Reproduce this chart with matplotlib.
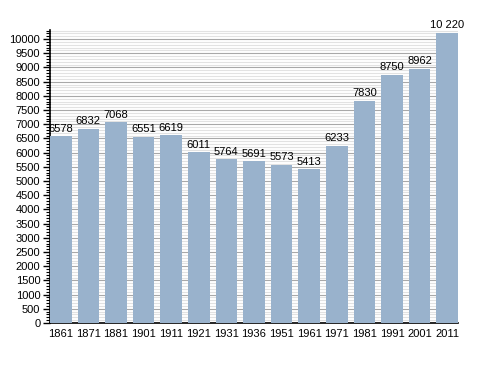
import matplotlib
matplotlib.use("Agg")
import matplotlib.pyplot as plt
from matplotlib.ticker import MultipleLocator

# data
years = ["1861", "1871", "1881", "1901", "1911", "1921", "1931", "1936",
         "1951", "1961", "1971", "1981", "1991", "2001", "2011"]
population = [6578, 6832, 7068, 6551, 6619, 6011, 5764, 5691,
              5573, 5413, 6233, 7830, 8750, 8962, 10220]
labels = ["6578", "6832", "7068", "6551", "6619", "6011", "5764", "5691",
          "5573", "5413", "6233", "7830", "8750", "8962", "10 220"]

plt.rcParams["font.family"] = ["Liberation Sans", "DejaVu Sans"]

fig = plt.figure(figsize=(4.88, 3.73), dpi=100)
ax = fig.add_axes([50 / 488, 50 / 373, 408 / 488, 293 / 373])

x = list(range(len(years)))
w = 0.78
ax.bar(x, population, width=w, color="#99b2cc", zorder=3)

for xi, v, lab in zip(x, population, labels):
    ax.text(xi, v + 90, lab, ha="center", va="bottom", fontsize=8, zorder=4)

ax.set_xlim(-w / 2, len(years) - 1 + w / 2)
ax.set_ylim(0, 10320)
ax.yaxis.set_major_locator(MultipleLocator(500))
ax.yaxis.set_minor_locator(MultipleLocator(100))
ax.grid(which="major", axis="y", color="#a8a8a8", linewidth=0.8, zorder=1)
ax.grid(which="minor", axis="y", color="#e2e2e2", linewidth=0.8, zorder=0)

ax.set_xticks(x)
ax.set_xticklabels(years, fontsize=8)
ax.tick_params(axis="x", length=0, pad=4)
ax.tick_params(axis="y", which="major", length=5, width=1, labelsize=8, pad=2)
ax.tick_params(axis="y", which="minor", length=3, width=0.8)

for s in ["top", "right"]:
    ax.spines[s].set_visible(False)
ax.spines["left"].set_linewidth(1.2)
ax.spines["bottom"].set_linewidth(1.2)

fig.savefig("out.png", dpi=100)
